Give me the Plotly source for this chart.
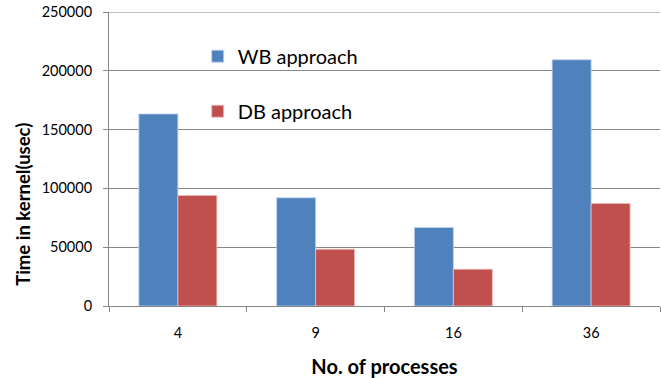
import plotly.graph_objects as go

categories = ["4", "9", "16", "36"]
wb_values = [163300, 92000, 66800, 209400]
db_values = [94000, 48300, 31300, 87200]
y_ticks = [0, 50000, 100000, 150000, 200000, 250000]

FONT = "Lato"
GRID = "#868686"
fig = go.Figure()
fig.add_trace(go.Bar(
    x=categories, y=wb_values, name="WB approach", legendgroup="wb",
    marker=dict(color="#4F81BD", line=dict(color="rgba(190,210,240,0.8)", width=1)),
))
fig.add_trace(go.Bar(
    x=categories, y=db_values, name="DB approach", legendgroup="db",
    marker=dict(color="#C0504D", line=dict(color="rgba(240,190,190,0.8)", width=1)),
))

fig.update_layout(
    width=661, height=378,
    margin=dict(l=109, r=1, t=12, b=72, pad=0),
    paper_bgcolor="white", plot_bgcolor="white",
    barmode="group", bargap=0.434, bargroupgap=0,
    font=dict(family=FONT, color="#000000"),
    showlegend=True,
    legend=dict(
        x=0.161, y=0.916, xanchor="left", yanchor="top",
        font=dict(family=FONT, size=20, color="#000000"),
        bgcolor="rgba(0,0,0,0)", tracegroupgap=26,
        traceorder="grouped",
    ),
    xaxis=dict(
        type="category", showline=True, linecolor=GRID, linewidth=1,
        ticks="outside", ticklen=5, tickcolor=GRID, tickson="boundaries",
        showgrid=False, tickfont=dict(family=FONT, size=14.5, color="#000000"),
        ticklabelstandoff=14, automargin=False,
        title=dict(text="<b>No. of processes</b>", font=dict(family=FONT, size=20, color="#000000"), standoff=22),
    ),
    yaxis=dict(
        range=[0, 250000], tickvals=y_ticks, ticktext=[str(v) for v in y_ticks],
        showline=True, linecolor=GRID, linewidth=1,
        ticks="outside", ticklen=5, tickcolor=GRID,
        showgrid=True, gridcolor=GRID, gridwidth=1, zeroline=False,
        tickfont=dict(family=FONT, size=14.5, color="#000000"),
        ticklabelstandoff=8, automargin=False,
    ),
    annotations=[dict(
        text="<b>Time in kernel(usec)</b>", textangle=-90,
        xref="paper", yref="paper", x=0, y=0.344, xanchor="center", yanchor="middle",
        xshift=-86, showarrow=False,
        font=dict(family=FONT, size=18.5, color="#000000"),
    )],
    # top gridline (plotly clips the gridline at the range end)
    shapes=[dict(type="line", xref="paper", yref="y", x0=0, x1=1,
                 y0=y_ticks[-1], y1=y_ticks[-1], line=dict(color=GRID, width=1), layer="below")],
)

# remove the browser's default 8px body margin so the figure fills the window
fig.write_html("out.html", config={"displayModeBar": False},
               post_script="document.body.style.margin='0';")
